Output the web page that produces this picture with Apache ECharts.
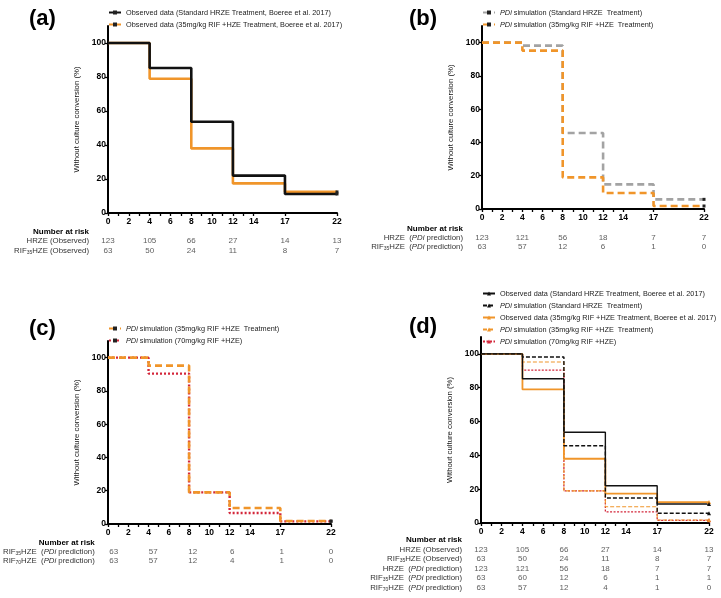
<!DOCTYPE html>
<html>
<head>
<meta charset="utf-8">
<script src="https://cdn.jsdelivr.net/npm/echarts@6/dist/echarts.min.js"></script>
<style>html,body{margin:0;padding:0;background:#fff}#c{width:721px;height:598px}</style>
</head>
<body>
<div id="c"></div>
<script>
// ---------- data ----------
const weeks = [0, 4, 8, 12, 17, 22];
const xTickWeeks = [0,1,2,3,4,5,6,7,8,9,10,11,12,13,14,17,22];
const xLabelWeeks = [0,2,4,6,8,10,12,14,17,22];
const yTickValues = [0,20,40,60,80,100];

const hrzeObserved  = [100, 85.3, 53.7, 22.0, 11.2, 11.2];
const rif35Observed = [100, 79.0, 38.0, 17.4, 12.4, 12.4];
const hrzePdi       = [100, 98.2, 45.7, 14.8, 5.8, 5.8];
const rif35Pdi      = [100, 95.2, 19.0, 9.6, 1.8, 1.8];
const rif70Pdi      = [100, 90.4, 19.0, 6.6, 1.6, 1.6];

const riskHrzeObs    = [123, 105, 66, 27, 14, 13];
const riskRif35Obs   = [63, 50, 24, 11, 8, 7];
const riskHrzePdi    = [123, 121, 56, 18, 7, 7];
const riskRif35PdiBC = [63, 57, 12, 6, 1, 0];
const riskRif35PdiD  = [63, 60, 12, 6, 1, 1];
const riskRif70Pdi   = [63, 57, 12, 4, 1, 0];

const legendText = {
  obsHrze: 'Observed data (Standard HRZE Treatment, Boeree et al. 2017)',
  obsRif35: 'Observed data (35mg/kg RIF +HZE Treatment, Boeree et al. 2017)',
  pdiHrze: '{i|PDi} simulation (Standard HRZE  Treatment)',
  pdiRif35: '{i|PDi} simulation (35mg/kg RIF +HZE  Treatment)',
  pdiRif70: '{i|PDi} simulation (70mg/kg RIF +HZE)'
};
const rowText = {
  head: '{b|Number at risk}',
  hrzeObs: 'HRZE (Observed)',
  rif35Obs: 'RIF{sub|35}HZE (Observed)',
  hrzePdi: 'HRZE  ({i|PDi} prediction)',
  rif35Pdi: 'RIF{sub|35}HZE  ({i|PDi} prediction)',
  rif70Pdi: 'RIF{sub|70}HZE  ({i|PDi} prediction)'
};

// ---------- styling / layout ----------
const FONT = '"Liberation Sans", Arial, sans-serif';
const BLACK = '#111111', ORANGE = '#f0952a', GRAY = '#a3a3a3', RED = '#d3263a';

const panels = [
  { label: '(a)', lx: 24, ly: 3, plot: {left:108, top:26, width:229, height:187},
    table: {top:227, height:28.5}, legend: {left:108, top:9},
    lines: [
      {key:'obsHrze', name:'a1', vals:hrzeObserved, color:BLACK, width:2.6, type:'solid'},
      {key:'obsRif35', name:'a2', vals:rif35Observed, color:ORANGE, width:2.6, type:'solid'}
    ], order: ['a2','a1'],
    rows: [['head',null],['hrzeObs',riskHrzeObs],['rif35Obs',riskRif35Obs]] },
  { label: '(b)', lx: 404, ly: 3, plot: {left:482, top:26, width:222, height:183},
    table: {top:224.5, height:27}, legend: {left:482, top:9},
    lines: [
      {key:'pdiHrze', name:'b1', vals:hrzePdi, color:GRAY, width:2.6, type:[7,4]},
      {key:'pdiRif35', name:'b2', vals:rif35Pdi, color:ORANGE, width:2.6, type:[7,4]}
    ], order: ['b1','b2'],
    rows: [['head',null],['hrzePdi',riskHrzePdi],['rif35Pdi',riskRif35PdiBC]] },
  { label: '(c)', lx: 24, ly: 313, plot: {left:108, top:341, width:223, height:183},
    table: {top:538.3, height:26.5}, legend: {left:108, top:325},
    lines: [
      {key:'pdiRif35', name:'c1', vals:rif35Pdi, color:ORANGE, width:2.6, type:[7,4]},
      {key:'pdiRif70', name:'c2', vals:rif70Pdi, color:RED, width:2.4, type:[2,2]}
    ], order: ['c2','c1'],
    rows: [['head',null],['rif35Pdi',riskRif35PdiBC],['rif70Pdi',riskRif70Pdi]] },
  { label: '(d)', lx: 404, ly: 311, plot: {left:481, top:337, width:228, height:186},
    table: {top:535.3, height:57}, legend: {left:482, top:290},
    lines: [
      {key:'obsHrze', name:'d1', vals:hrzeObserved, color:BLACK, width:1.4, type:'solid', sym:'triangle'},
      {key:'pdiHrze', name:'d2', vals:hrzePdi, color:BLACK, width:1.4, type:[4,2], sym:'triangle'},
      {key:'obsRif35', name:'d3', vals:rif35Observed, color:ORANGE, width:1.8, type:'solid', sym:'triangle'},
      {key:'pdiRif35', name:'d4', vals:rif35Pdi, color:ORANGE, width:1.1, type:[4,2], sym:'triangle'},
      {key:'pdiRif70', name:'d5', vals:rif70Pdi, color:RED, width:1.3, type:[2,1.5], sym:'triangle'}
    ], order: ['d5','d4','d3','d2','d1'],
    rows: [['head',null],['hrzeObs',riskHrzeObs],['rif35Obs',riskRif35Obs],['hrzePdi',riskHrzePdi],['rif35Pdi',riskRif35PdiD],['rif70Pdi',riskRif70Pdi]] }
];

const nameToKey = {};
panels.forEach(p => p.lines.forEach(l => nameToKey[l.name] = l.key));

const option = {
  animation: false,
  backgroundColor: '#fff',
  title: [], grid: [], xAxis: [], yAxis: [], legend: [], series: []
};

const richRow = {
  b: {fontWeight:'bold', fontSize:8, color:'#000', fontFamily:FONT},
  sub: {fontSize:5, color:'#333', fontFamily:FONT, verticalAlign:'bottom', padding:[4,0,0,0]},
  i: {fontStyle:'italic', fontSize:7.8, color:'#333', fontFamily:FONT}
};

panels.forEach((p, pi) => {
  const gPlot = option.grid.length;
  option.grid.push(Object.assign({}, p.plot));
  option.grid.push({left:p.plot.left, width:p.plot.width, top:p.table.top, height:p.table.height});
  const gTab = gPlot + 1;

  option.title.push({text:p.label, left:p.lx, top:p.ly,
    textStyle:{fontSize:22, fontWeight:'bold', color:'#000', fontFamily:FONT}});

  const xPlot = option.xAxis.length;
  option.xAxis.push({gridIndex:gPlot, type:'value', min:0, max:22,
    axisLine:{show:true, lineStyle:{color:'#000', width:2}},
    axisTick:{show:true, customValues:xTickWeeks, length:3, lineStyle:{color:'#000', width:1.3}},
    axisLabel:{customValues:xLabelWeeks, fontSize:8.5, fontWeight:'bold', color:'#000', margin:4, fontFamily:FONT},
    splitLine:{show:false}});
  const yPlot = option.yAxis.length;
  option.yAxis.push({gridIndex:gPlot, type:'value', min:0, max:110,
    axisLine:{show:true, lineStyle:{color:'#000', width:2}},
    axisTick:{show:true, customValues:yTickValues, length:3, lineStyle:{color:'#000', width:1.3}},
    axisLabel:{customValues:yTickValues, fontSize:8.5, fontWeight:'bold', color:'#000', margin:2, fontFamily:FONT},
    splitLine:{show:false},
    name:'Without culture conversion (%)', nameLocation:'middle', nameGap:27,
    nameTextStyle:{fontSize:7.8, color:'#111', fontFamily:FONT}});

  const xTab = option.xAxis.length;
  option.xAxis.push({gridIndex:gTab, type:'value', min:0, max:22, show:false});
  const yTab = option.yAxis.length;
  option.yAxis.push({gridIndex:gTab, type:'category', inverse:true,
    data:p.rows.map(r => r[0]),
    axisLine:{show:false}, axisTick:{show:false}, splitLine:{show:false},
    axisLabel:{fontSize:7.8, color:'#333', margin:19, fontFamily:FONT, interval:0,
      formatter:k => rowText[k], rich:richRow}});

  // lines (drawn in specified order)
  p.order.forEach(nm => {
    const l = p.lines.find(x => x.name === nm);
    const sym = l.sym || 'rect';
    option.series.push({
      type:'line', name:l.name, xAxisIndex:xPlot, yAxisIndex:yPlot, step:'end',
      symbol:sym, symbolSize: sym === 'rect' ? 3 : 4,
      color:l.color,
      itemStyle:{color: sym === 'rect' ? '#222' : l.color},
      lineStyle:{color:l.color, width:l.width, type:l.type},
      data: weeks.map((w, i) => i === weeks.length - 1
        ? {value:[w, l.vals[i]]}
        : {value:[w, l.vals[i]], symbol:'none'}),
      silent:true, z:3
    });
  });

  option.legend.push({
    data:p.lines.map(l => l.name),
    orient:'vertical', left:p.legend.left, top:p.legend.top,
    itemWidth:12, itemHeight:5, itemGap:5, padding:0, selectedMode:false,
    formatter:nm => legendText[nameToKey[nm]],
    textStyle:{fontSize:7.3, color:'#222', fontFamily:FONT,
      rich:{i:{fontStyle:'italic', fontSize:7.3, color:'#222', fontFamily:FONT}}}
  });

  // number-at-risk table
  const tabData = [];
  p.rows.forEach(r => {
    if (!r[1]) return;
    weeks.forEach((w, i) => tabData.push([w, r[0], r[1][i]]));
  });
  option.series.push({
    type:'scatter', xAxisIndex:xTab, yAxisIndex:yTab, symbolSize:1,
    itemStyle:{color:'rgba(0,0,0,0)'}, silent:true,
    label:{show:true, position:'inside', formatter:q => String(q.value[2]),
      fontSize:8, color:'#333', fontFamily:FONT},
    data:tabData
  });
});

const chart = echarts.init(document.getElementById('c'), null, {renderer:'canvas'});
chart.setOption(option);
</script>
</body>
</html>
